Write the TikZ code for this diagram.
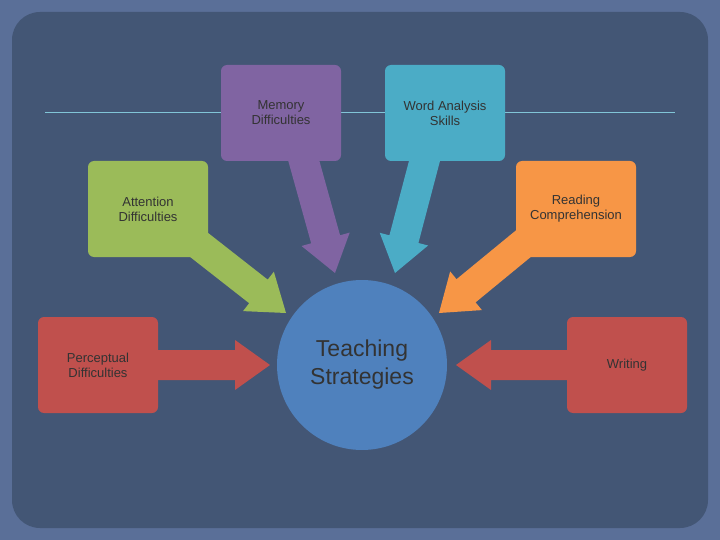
\documentclass[tikz,border=0pt]{standalone}
\usepackage{fontspec}
\setmainfont{Liberation Sans}
\usetikzlibrary{calc}
\definecolor{frameblue}{HTML}{5A6F98}
\definecolor{slate}{HTML}{435675}
\definecolor{memcol}{HTML}{8064A2}
\definecolor{wordcol}{HTML}{4BACC6}
\definecolor{attcol}{HTML}{9BBB59}
\definecolor{readcol}{HTML}{F79646}
\definecolor{redcol}{HTML}{C0504D}
\definecolor{circcol}{HTML}{4F81BD}
\tikzset{
  card/.style={rounded corners=6pt,minimum width=120pt,minimum height=96pt,
    align=center,text=black!80,font=\fontsize{13}{15}\selectfont,inner sep=0pt},
}
% fat arrow from #1 to #2
\newcommand{\fatarrow}[3]{%
  \coordinate (hb) at ($(#2)!35pt!(#1)$);
  \fill[#3] ($(#1)!15pt!90:(#2)$) -- ($(hb)!15pt!-90:(#1)$) -- ($(hb)!25pt!-90:(#1)$)
    -- (#2) -- ($(hb)!25pt!90:(#1)$) -- ($(hb)!15pt!90:(#1)$) -- ($(#1)!15pt!-90:(#2)$) -- cycle;}
\begin{document}
\begin{tikzpicture}[x=1pt,y=-1pt]
\useasboundingbox (0,0) rectangle (720,540);
\fill[frameblue] (0,0) rectangle (720,540);
\fill[slate,rounded corners=28pt] (12,12) rectangle (708,528);
\draw[wordcol!70,line width=0.6pt] (45,112) -- (675,112);

\coordinate (memS) at (298,140);   \coordinate (memT) at (335,273);
\coordinate (wordS) at (430,140);  \coordinate (wordT) at (395,273);
\coordinate (attS) at (180,230);   \coordinate (attT) at (286,313);
\coordinate (readS) at (540,230);  \coordinate (readT) at (439,313);
\coordinate (percS) at (140,365);  \coordinate (percT) at (270,365);
\coordinate (writS) at (580,365);  \coordinate (writT) at (456,365);
\fatarrow{memS}{memT}{memcol}
\fatarrow{wordS}{wordT}{wordcol}
\fatarrow{attS}{attT}{attcol}
\fatarrow{readS}{readT}{readcol}
\fatarrow{percS}{percT}{redcol}
\fatarrow{writS}{writT}{redcol}

\node[card,fill=memcol] (mem) at (281,113) {Memory\\Difficulties};
\node[card,fill=wordcol] (word) at (445,113) {Word Analysis\\Skills};
\node[card,fill=attcol] (att) at (148,209) {Attention\\Difficulties};
\node[card,fill=readcol] (read) at (576,209) {Reading\\Comprehension};
\node[card,fill=redcol] (perc) at (98,365) {Perceptual\\Difficulties};
\node[card,fill=redcol] (writ) at (627,365) {Writing};
\node[circle,fill=circcol,minimum size=170pt,align=center,text=black!80,
  font=\fontsize{23}{28}\selectfont] (teach) at (362,365) {Teaching\\Strategies};
\end{tikzpicture}
\end{document}
